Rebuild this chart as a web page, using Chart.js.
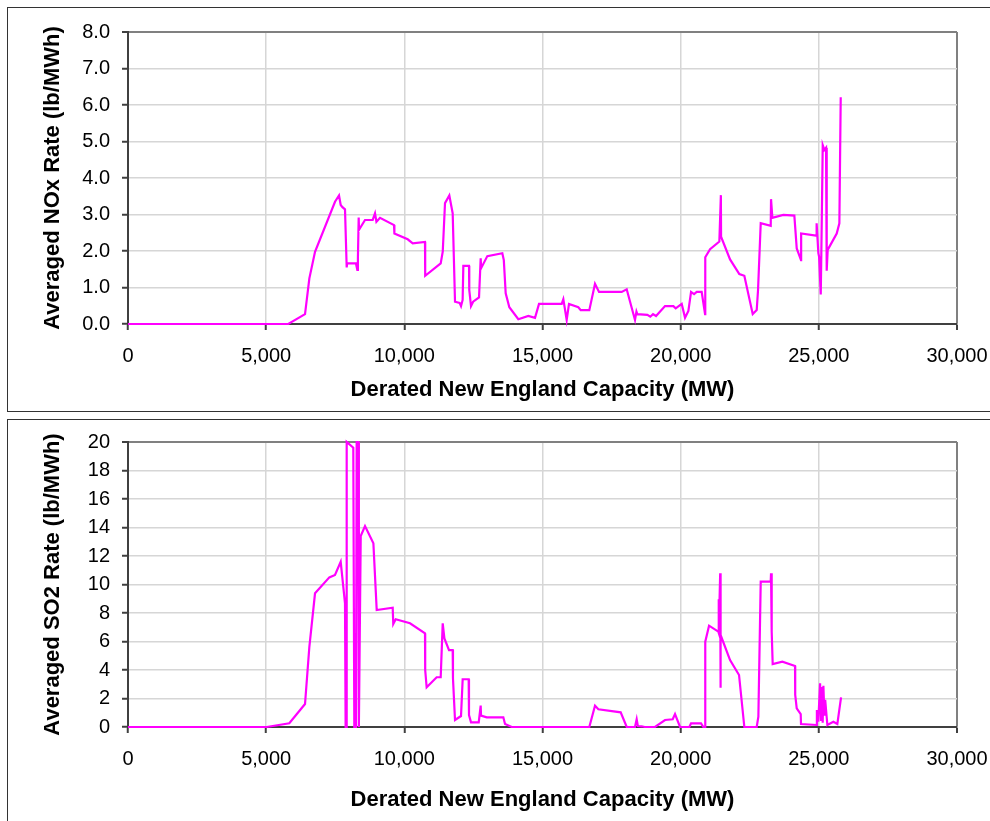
<!DOCTYPE html>
<html>
<head>
<meta charset="utf-8">
<script src="https://cdn.jsdelivr.net/npm/chart.js@4.4.1/dist/chart.umd.min.js"></script>
<style>
  html, body { margin: 0; padding: 0; background: #fff; overflow: hidden; }
  body { width: 990px; height: 821px; position: relative; font-family: "Liberation Sans", Arial, sans-serif; }
  .frame { position: absolute; box-sizing: border-box; border: 1px solid #333; background: #fff; }
  .holder { position: absolute; left: 0; width: 990px; }
  canvas { display: block; }
</style>
</head>
<body>
<div class="frame" style="left:7px; top:7px; width:1000px; height:405px;"></div>
<div class="frame" style="left:7px; top:419px; width:1000px; height:420px;"></div>
<div class="holder" style="top:0px; height:415px;"><canvas id="noxChart" width="990" height="415"></canvas></div>
<div class="holder" style="top:415px; height:406px;"><canvas id="so2Chart" width="990" height="406"></canvas></div>
<script>
// ---- Data ----
const xTickLabels = ["0", "5,000", "10,000", "15,000", "20,000", "25,000", "30,000"];
const noxTickLabels = ["0.0", "1.0", "2.0", "3.0", "4.0", "5.0", "6.0", "7.0", "8.0"];
const so2TickLabels = ["0", "2", "4", "6", "8", "10", "12", "14", "16", "18", "20"];

const noxCapacity = [0, 5800, 6406, 6563, 6768, 7491, 7636, 7697, 7760, 7853, 7914, 7930, 8250, 8299, 8320, 8348, 8360, 8577, 8855, 8939, 8990, 9120, 9627, 9640, 10122, 10303, 10748, 10755, 11316, 11390, 11472, 11628, 11750, 11834, 12000, 12051, 12110, 12135, 12341, 12350, 12413, 12490, 12703, 12763, 12780, 13003, 13546, 13600, 13668, 13800, 14125, 14487, 14729, 14874, 15695, 15754, 15875, 15959, 16296, 16383, 16694, 16900, 17045, 17866, 18047, 18347, 18400, 18432, 18794, 18900, 19000, 19108, 19434, 19736, 19821, 20038, 20158, 20279, 20376, 20485, 20582, 20760, 20883, 20890, 21064, 21400, 21455, 21462, 21787, 22123, 22304, 22608, 22752, 22800, 22897, 23259, 23270, 23318, 23716, 24114, 24200, 24356, 24360, 24899, 24920, 24983, 25010, 25069, 25090, 25141, 25200, 25261, 25285, 25320, 25647, 25743, 25792];
const noxRate = [0, 0, 0.27, 1.25, 1.98, 3.35, 3.52, 3.26, 3.2, 3.14, 1.55, 1.66, 1.66, 1.48, 1.8, 2.92, 2.58, 2.85, 2.85, 3.03, 2.8, 2.91, 2.71, 2.48, 2.32, 2.21, 2.25, 1.32, 1.66, 1.98, 3.31, 3.52, 3.03, 0.61, 0.58, 0.49, 0.66, 1.59, 1.59, 0.93, 0.49, 0.61, 0.73, 1.8, 1.53, 1.86, 1.94, 1.75, 0.84, 0.46, 0.13, 0.22, 0.17, 0.55, 0.55, 0.68, 0.11, 0.55, 0.46, 0.38, 0.38, 1.1, 0.88, 0.88, 0.95, 0.11, 0.34, 0.27, 0.25, 0.2, 0.27, 0.22, 0.49, 0.49, 0.43, 0.55, 0.17, 0.36, 0.88, 0.82, 0.88, 0.88, 0.27, 1.83, 2.05, 2.26, 3.53, 2.39, 1.77, 1.37, 1.32, 0.27, 0.38, 0.93, 2.76, 2.69, 3.42, 2.91, 2.99, 2.97, 2.07, 1.75, 2.48, 2.42, 2.76, 1.94, 1.84, 0.81, 1.9, 4.9, 4.77, 4.83, 1.46, 2.03, 2.48, 2.76, 6.21];

const so2Capacity = [0, 5019, 5838, 6406, 6563, 6768, 7286, 7491, 7697, 7853, 7875, 7900, 7914, 8153, 8190, 8250, 8275, 8330, 8355, 8422, 8577, 8880, 9000, 9579, 9600, 9687, 10206, 10748, 10755, 10808, 11170, 11316, 11389, 11450, 11617, 11750, 11760, 11834, 12051, 12111, 12328, 12340, 12413, 12692, 12763, 12775, 12981, 13582, 13644, 13886, 16694, 16900, 17021, 17829, 18047, 18347, 18408, 18450, 18590, 18700, 19072, 19434, 19712, 19796, 19977, 20315, 20376, 20737, 20821, 20883, 20890, 21027, 21364, 21372, 21385, 21430, 21440, 21450, 21787, 22112, 22304, 22752, 22812, 22897, 23259, 23270, 23294, 23330, 23680, 24139, 24145, 24200, 24344, 24355, 24923, 24930, 24980, 25045, 25080, 25110, 25140, 25165, 25200, 25230, 25309, 25526, 25670, 25804];
const so2Rate = [0, 0, 0.26, 1.61, 5.63, 9.38, 10.5, 10.67, 11.6, 8.68, 0, 0, 20, 19.6, 0, 0, 20, 20, 0, 13.4, 14.1, 12.9, 8.21, 8.37, 7.23, 7.56, 7.28, 6.57, 4.0, 2.78, 3.49, 3.49, 7.28, 6.22, 5.4, 5.4, 3.42, 0.49, 0.77, 3.35, 3.35, 0.84, 0.33, 0.33, 1.5, 0.8, 0.68, 0.68, 0.21, 0, 0, 1.5, 1.24, 1.03, 0, 0, 0.54, 0.07, 0.05, 0, 0, 0.49, 0.54, 0.91, 0, 0, 0.26, 0.26, 0, 0, 5.99, 7.11, 6.69, 8.96, 6.6, 10.79, 2.76, 6.46, 4.7, 3.65, 0, 0, 0.72, 10.2, 10.2, 10.79, 6.69, 4.42, 4.58, 4.28, 2.25, 1.31, 0.91, 0.21, 0.14, 1.19, 0.37, 3.07, 0.5, 2.8, 0.3, 2.9, 0.8, 1.9, 0.14, 0.37, 0.21, 2.08];

const xTitle = "Derated New England Capacity (MW)";
const noxTitle = "Averaged NOx Rate (lb/MWh)";
const so2Title = "Averaged SO2 Rate (lb/MWh)";

// ---- Chart construction ----
const FONT = "'Liberation Sans', Arial, sans-serif";
const GRID = '#d6d6d6';
const EDGE = '#808080';
const AXIS = '#404040';

function pts(xs, ys) { return xs.map((x, i) => ({ x: x, y: ys[i] })); }

function makeChart(id, xs, ys, yLabels, yStep, yTitle, pad, xAxisH, xTitlePadB) {
  const yMax = yStep * (yLabels.length - 1);
  const xMax = 5000 * (xTickLabels.length - 1);
  const isEdge = (c, m) => c.tick && c.tick.value === m;
  return new Chart(document.getElementById(id), {
    type: 'scatter',
    data: { datasets: [{ data: pts(xs, ys), showLine: true, borderColor: '#ff00ff', borderWidth: 2.2, pointRadius: 0, pointHoverRadius: 0, tension: 0, fill: false, clip: 3 }] },
    options: {
      responsive: false, animation: false, devicePixelRatio: 1,
      layout: { padding: pad },
      plugins: { legend: { display: false }, tooltip: { enabled: false } },
      scales: {
        x: {
          type: 'linear', min: 0, max: xMax,
          ticks: { stepSize: 5000, color: '#000', padding: 14, font: { family: FONT, size: 20 },
            callback: (v) => xTickLabels[Math.round(v / 5000)] },
          grid: { color: (c) => isEdge(c, xMax) ? EDGE : GRID,
                  lineWidth: (c) => isEdge(c, xMax) ? 2 : 1.5,
                  tickLength: 6, tickColor: AXIS, tickWidth: 2 },
          border: { color: AXIS, width: 2 },
          title: { display: true, text: xTitle, color: '#000', font: { family: FONT, size: 22, weight: 'bold' }, padding: { top: 0, bottom: xTitlePadB } },
          afterFit: (s) => { s.height = xAxisH; s.paddingLeft = 0; s.paddingRight = 0; }
        },
        y: {
          type: 'linear', min: 0, max: yMax,
          ticks: { stepSize: yStep, color: '#000', padding: 12, font: { family: FONT, size: 20 },
            callback: (v) => yLabels[Math.round(v / yStep)] },
          grid: { color: (c) => isEdge(c, yMax) ? EDGE : GRID,
                  lineWidth: (c) => isEdge(c, yMax) ? 2 : 1.5,
                  tickLength: 6, tickColor: AXIS, tickWidth: 2 },
          border: { color: AXIS, width: 2 },
          title: { display: true, text: yTitle, color: '#000', font: { family: FONT, size: 22, weight: 'bold' }, padding: { top: 40, bottom: 0 } },
          afterFit: (s) => { s.width = 128; s.paddingTop = 0; s.paddingBottom = 0; }
        }
      }
    }
  });
}

makeChart('noxChart', noxCapacity, noxRate, noxTickLabels, 1, noxTitle, { left: 0, top: 32, right: 33, bottom: 4 }, 87, 8);
makeChart('so2Chart', so2Capacity, so2Rate, so2TickLabels, 2, so2Title, { left: 0, top: 27, right: 33, bottom: 7 }, 87, 1);
</script>
</body>
</html>
